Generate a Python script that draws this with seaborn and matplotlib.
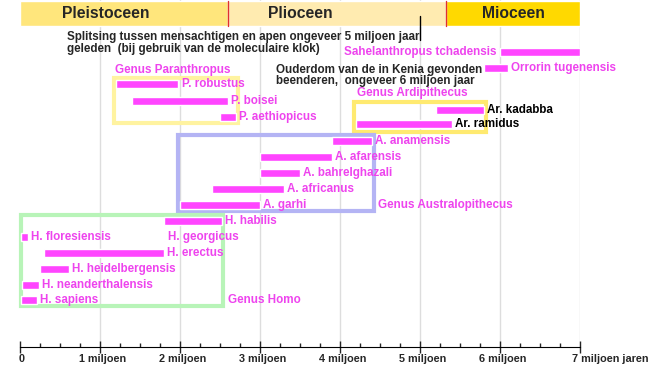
import matplotlib
matplotlib.use('Agg')
import matplotlib.pyplot as plt
import matplotlib.transforms as mtransforms
from matplotlib.patches import Rectangle
import seaborn as sns

# tijdperken (miljoen jaar geleden)
epochs = ['Pleistoceen', 'Plioceen', 'Mioceen']
epoch_start = [0.0, 2.6, 5.33]
epoch_end = [2.6, 5.33, 7.0]
epoch_label_x = [1.07, 3.5, 6.17]
epoch_colors = ['#FFE67C', '#FFEBB0', '#FFD900']

# soorten: begin en einde in miljoen jaar
species = ['Sahelanthropus tchadensis', 'Orrorin tugenensis',
           'P. robustus', 'P. boisei', 'P. aethiopicus',
           'Ar. kadabba', 'Ar. ramidus',
           'A. anamensis', 'A. afarensis', 'A. bahrelghazali', 'A. africanus', 'A. garhi',
           'H. habilis', 'H. floresiensis', 'H. georgicus', 'H. erectus',
           'H. heidelbergensis', 'H. neanderthalensis', 'H. sapiens']
start = [6.0, 5.8, 1.2, 1.4, 2.5, 5.2, 4.2, 3.9, 3.0, 3.0, 2.4, 2.0,
         1.8, 0.01, 1.80, 0.3, 0.25, 0.03, 0.01]
end = [7.0, 6.1, 1.98, 2.6, 2.7, 5.8, 5.4, 4.4, 3.9, 3.5, 3.3, 3.0,
       2.52, 0.1, 1.815, 1.8, 0.61, 0.24, 0.21]
genus = ['Sahel', 'Orrorin', 'Paranthropus', 'Paranthropus', 'Paranthropus',
         'Ardipithecus', 'Ardipithecus',
         'Australopithecus', 'Australopithecus', 'Australopithecus', 'Australopithecus', 'Australopithecus',
         'Homo', 'Homo', 'Homo', 'Homo', 'Homo', 'Homo', 'Homo']

# layout: verticale positie (pixels vanaf boven)
rows = [52, 68, 84, 101, 117, 110, 124, 141, 157, 173, 189, 205,
        221, 237, 237, 253, 269, 285, 300]

boxes = ['Paranthropus', 'Ardipithecus', 'Australopithecus', 'Homo']
box_colors = ['#FFF3A0', '#FFEA70', '#B4B4F4', '#B8F4B8']
box_pad = [6, 8, 6, 6]

ticks = [0, 1, 2, 3, 4, 5, 6, 7]
tick_labels = ['0', '1 miljoen', '2 miljoen', '3 miljoen', '4 miljoen',
               '5 miljoen', '6 miljoen', '7 miljoen jaren']

bar_col = '#FF45FF'
txt_col = '#EE44EE'
fs = 8.4

sns.set_style('white')
plt.rcParams['font.family'] = ['Liberation Sans', 'DejaVu Sans']

W, H = 650, 366
fig = plt.figure(figsize=(W / 100, H / 100), dpi=100)
ax = fig.add_axes([20 / W, 19 / H, 560 / W, 347 / H])
ax.set_xlim(0, 7)
ax.set_ylim(347, 0)

# rasterlijnen
for t in ticks[1:]:
    ax.axvline(t, color='#DDDDDD', lw=1, zorder=0)

# tijdperken bovenaan
ax.barh([13.5] * 3, [e - s for s, e in zip(epoch_start, epoch_end)], left=epoch_start,
        height=25, color=epoch_colors, zorder=2)
for b in epoch_start[1:]:
    ax.plot([b, b], [1, 26], color='#E03030', lw=1, zorder=3)
for name, x in zip(epochs, epoch_label_x):
    ax.text(x, 13, name, ha='center', va='center', fontsize=11.3, fontweight='bold', zorder=4)

# genus-kaders
for g, c, p in zip(boxes, box_colors, box_pad):
    idx = [i for i, gg in enumerate(genus) if gg == g]
    x0 = max(min(start[i] for i in idx) - 0.03, 0.01)
    x1 = max(end[i] for i in idx) + 0.02
    y0 = min(rows[i] for i in idx) - p
    y1 = max(rows[i] for i in idx) + p
    ax.add_patch(Rectangle((x0, y0), x1 - x0, y1 - y0, fill=False, ec=c, lw=3,
                           zorder=1, clip_on=False))

# balken
ax.barh(rows, [e - s for s, e in zip(start, end)], left=start, height=8,
        color=bar_col, zorder=5)

# namen
for name, s, e, r, g in zip(species, start, end, rows, genus):
    col = 'black' if g == 'Ardipithecus' else txt_col
    if g == 'Sahel':
        ax.text(s - 0.04, r, name, ha='right', va='center', fontsize=fs,
                fontweight='bold', color=col, zorder=6)
    else:
        ax.text(e + 0.04, r, name, ha='left', va='center', fontsize=fs,
                fontweight='bold', color=col, zorder=6)

ax.text(1.19, 70, 'Genus Paranthropus', fontsize=fs, fontweight='bold', color=txt_col, va='center')
ax.text(4.21, 93, 'Genus Ardipithecus', fontsize=fs, fontweight='bold', color=txt_col, va='center')
ax.text(4.48, 205, 'Genus Australopithecus', fontsize=fs, fontweight='bold', color=txt_col, va='center')
ax.text(2.6, 300, 'Genus Homo', fontsize=fs, fontweight='bold', color=txt_col, va='center')

# opmerkingen
ax.text(0.59, 37, 'Splitsing tussen mensachtigen en apen ongeveer 5 miljoen jaar',
        fontsize=fs, fontweight='bold', va='center', zorder=6)
ax.text(0.59, 48.5, 'geleden  (bij gebruik van de moleculaire klok)',
        fontsize=fs, fontweight='bold', va='center', zorder=6)
ax.plot([5.0, 5.0], [16, 40], color='black', lw=1, zorder=6)
ax.text(3.2, 70, 'Ouderdom van de in Kenia gevonden',
        fontsize=fs, fontweight='bold', va='center', zorder=6)
ax.text(3.2, 80.5, 'beenderen,  ongeveer 6 miljoen jaar',
        fontsize=fs, fontweight='bold', va='center', zorder=6)

# x-as
sns.despine(ax=ax, left=True, top=True, right=True)
ax.spines['bottom'].set_color('black')
ax.set_yticks([])
ax.set_xticks(ticks)
ax.set_xticks([i * 0.25 for i in range(29)], minor=True)
ax.set_xticklabels(tick_labels, fontsize=7.8, fontweight='bold')
ax.tick_params(axis='x', which='major', direction='inout', length=8, width=1, pad=1, bottom=True)
ax.tick_params(axis='x', which='minor', direction='in', length=3, width=1, bottom=True)
labels = ax.get_xticklabels()
for lab in labels[1:-1]:
    lab.set_transform(lab.get_transform() +
                      mtransforms.ScaledTranslation(3 / 100, 0, fig.dpi_scale_trans))
labels[-1].set_ha('left')
labels[-1].set_transform(labels[-1].get_transform() +
                         mtransforms.ScaledTranslation(-8 / 100, 0, fig.dpi_scale_trans))
labels[0].set_ha('left')
labels[0].set_transform(labels[0].get_transform() +
                        mtransforms.ScaledTranslation(-1 / 100, 0, fig.dpi_scale_trans))

fig.savefig('out.png', dpi=100)
